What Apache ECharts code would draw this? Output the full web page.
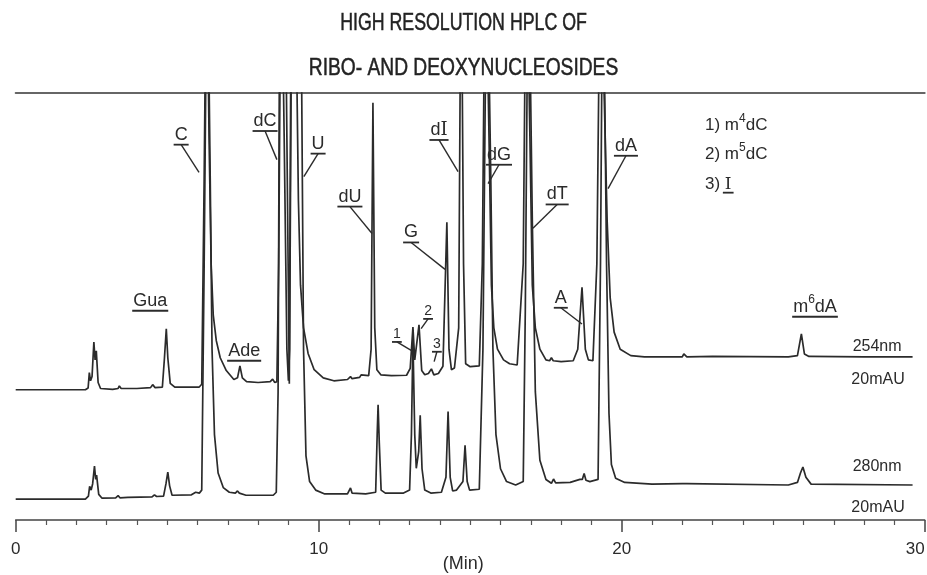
<!DOCTYPE html>
<html><head><meta charset="utf-8">
<script src="https://cdn.jsdelivr.net/npm/echarts@6/dist/echarts.min.js"></script>
<style>html,body{margin:0;padding:0;background:#fff}#c{width:927px;height:575px}</style>
</head><body><div id="c"></div>
<script>
// Retention time (min) vs detector response (relative units, 280 nm trace stacked below 254 nm trace)
const trace254 = [
  [0,30.5],[2.30,30.5],[2.39,30.9],[2.43,34.5],[2.47,32.6],[2.52,33.6],[2.58,41.7],[2.62,37.5],[2.66,39.6],[2.72,32.2],[2.80,30.8],
  [3.20,30.6],[3.38,30.8],[3.42,31.4],[3.48,30.8],[4.00,30.8],[4.45,31.0],[4.52,31.7],[4.60,31.0],[4.84,31.1],
  [4.91,38.0],[4.97,44.8],[5.02,38.0],[5.10,32.0],[5.25,31.1],[6.05,31.1],[6.14,31.8],
  [6.22,80],[6.30,140],[6.38,90],[6.45,60],[6.52,48],[6.62,42],[6.75,38],[6.95,35],[7.20,32.9],
  [7.32,33.3],[7.40,36.1],[7.48,33.3],[7.62,32.4],[8.00,32.2],[8.40,32.4],[8.48,33.0],[8.55,32.2],[8.62,32.4],
  [8.68,60],[8.76,140],[8.86,90],[8.95,40],[9.00,32.6],[9.04,40],[9.12,140],[9.25,120],[9.33,75],[9.40,55],[9.50,45],
  [9.65,39],[9.85,35.2],[10.15,33.3],[10.50,32.6],[10.95,32.9],[11.05,33.6],[11.10,33.1],[11.35,33.4],[11.40,34.0],[11.45,33.6],[11.65,33.8],
  [11.73,40],[11.79,97.7],[11.85,45],[11.92,35.2],[12.05,34.0],[12.40,33.8],[12.90,33.9],[13.02,35.5],
  [13.11,45.2],[13.17,37.5],[13.31,45.7],[13.40,35.0],[13.50,34.0],[13.62,34.3],[13.72,35.4],[13.80,34.0],[13.95,34.3],[14.10,36],
  [14.23,69.7],[14.30,40],[14.38,35.2],[14.48,35.6],[14.62,45],[14.70,140],[14.78,60],[14.85,36.6],[15.00,35.9],[15.30,36.1],
  [15.40,60],[15.50,140],[15.62,90],[15.70,55],[15.78,45],[15.90,40],[16.10,37.5],[16.30,36.6],[16.55,36.3],
  [16.75,60],[16.85,140],[16.97,90],[17.05,55],[17.15,45],[17.30,40],[17.50,37.5],[17.62,37.3],[17.68,38.0],[17.74,37.3],
  [18.00,37.1],[18.40,37.3],[18.55,40],[18.69,54.5],[18.80,40],[18.90,37.5],[19.05,37.3],
  [19.18,60],[19.30,140],[19.42,100],[19.52,70],[19.62,52],[19.75,44],[19.95,40],[20.30,38.5],[20.75,38.2],
  [22.00,38.2],[22.05,38.9],[22.15,38.2],[23.0,38.3],[25.5,38.2],[25.80,38.5],[25.93,43.6],[26.03,38.9],[26.18,38.3],[28.00,38.2],[29.6,38.2]
];
const trace280 = [
  [0,4.9],[2.30,4.9],[2.40,5.6],[2.44,7.9],[2.49,7.0],[2.54,8.5],[2.60,12.6],[2.64,9.5],[2.67,10.5],[2.74,6.0],[2.85,5.1],
  [3.30,5.2],[3.38,5.7],[3.44,5.2],[3.70,5.3],[4.50,5.4],[4.58,5.9],[4.65,5.5],[4.88,5.6],[4.96,8.5],[5.02,11.2],[5.08,8.0],[5.16,5.8],
  [5.80,5.9],[5.94,6.5],[6.00,6.8],[6.06,6.3],[6.14,7],[6.22,60],[6.32,140],[6.42,80],[6.48,40],[6.56,20],[6.68,11],[6.85,7.6],
  [7.05,6.5],[7.25,6.3],[7.32,6.8],[7.38,6.3],[7.60,5.8],[8.50,5.8],[8.60,6.5],
  [8.66,30],[8.72,140],[8.88,140],[9.03,31.9],[9.10,140],[9.40,140],[9.50,40],[9.58,15],[9.70,9],[9.90,7],[10.20,6.1],
  [10.95,6.1],[11.05,7.5],[11.10,6.3],[11.55,6.1],[11.88,6.5],[11.93,20],[11.96,27.0],[12.00,18],[12.06,7],[12.20,6.3],
  [12.80,6.3],[13.00,7.0],[13.06,20],[13.11,42.4],[13.17,20],[13.22,12.1],[13.30,16],[13.35,24.5],[13.41,12],[13.50,7],[13.70,6.3],
  [14.05,6.5],[14.20,10],[14.27,25.4],[14.34,10],[14.42,6.8],[14.55,7],[14.76,9],[14.83,17.5],[14.90,9],[14.98,7.0],[15.30,7.2],
  [15.42,40],[15.55,140],[15.68,80],[15.75,40],[15.85,20],[16.00,12],[16.20,9],[16.50,8.2],[16.75,9],
  [16.82,50],[16.92,140],[17.05,70],[17.15,30],[17.30,14],[17.50,9.5],[17.68,8.6],[17.75,9.6],[17.82,8.7],[18.30,8.8],
  [18.62,9.5],[18.70,9.5],[18.76,10.9],[18.82,9.3],[18.95,9.0],[19.22,9.5],
  [19.30,60],[19.38,140],[19.50,60],[19.58,25],[19.66,13],[19.80,9.8],[20.10,8.8],[21.0,8.4],[22.0,8.5],[22.05,8.9],[22.15,8.5],
  [25.50,8.2],[25.80,8.8],[25.90,11],[25.98,12.4],[26.08,10],[26.25,8.4],[29.6,8.2]
];
const xTicks = [0, 10, 20, 30];
const titleLines = ['HIGH RESOLUTION HPLC OF', 'RIBO- AND DEOXYNUCLEOSIDES'];
// Peak labels: text, underline position (time, level), leader end (time, level) or null
const peakNames  = ['Gua','Ade','C','dC','U','dU','dI','G','dG','dT','dA','A','m6dA','1','2','3'];
const labelAt    = [[4.44,49.0],[7.54,37.3],[5.46,87.9],[8.23,91.1],[9.98,85.8],[11.03,73.4],[13.97,89.0],[13.05,65.0],[15.95,83.2],[17.87,73.9],[20.14,85.3],[17.99,49.7],[26.38,47.6],[12.58,41.7],[13.61,47.1],[13.90,39.4]];
const leaderTo   = [null,null,[6.05,81.4],[8.62,84.4],[9.51,80.4],[11.76,67.1],[14.60,81.6],[14.17,58.7],[15.59,78.8],[17.07,68.3],[19.55,77.6],[18.69,45.9],null,[13.08,39.6],[13.38,44.8],[13.81,37.1]];
// Trace captions and key
const captions   = ['254nm','20mAU','280nm','20mAU'];
const captionAt  = [[28.43,40.6],[28.46,32.9],[28.43,12.6],[28.46,2.8]];
const keyLines   = ['1) m4dC','2) m5dC','3) I'];
const keyAt      = [[22.75,92.8],[22.75,86.0],[22.75,79.0]];

const SANS = '"Liberation Sans","DejaVu Sans",Arial,sans-serif';
const SERIF = '"DejaVu Serif","Liberation Serif",serif';
const INK = '#2b2b2b';
const ctx = document.createElement('canvas').getContext('2d');
function textWidth(parts) {
  let w = 0;
  parts.forEach(([s, f]) => { ctx.font = f; w += ctx.measureText(s).width; });
  return w;
}

// Turns a label like "m6dA" / "dI" into rich-text segments: digit after "m" is raised, "I" is a serif capital
function segments(name, fs) {
  const out = [];
  for (let k = 0; k < name.length; k++) {
    const ch = name[k];
    if (/\d/.test(ch) && name[k - 1] === 'm') out.push([ch, 'sup', Math.round(fs * 0.68), SANS]);
    else if (ch === 'I') out.push([ch, 'ser', fs, SERIF]);
    else out.push([ch, 'n', fs, SANS]);
  }
  const rich = {
    n: {fontFamily: SANS, fontSize: fs, fill: INK, verticalAlign: 'bottom', lineHeight: fs * 1.25},
    sup: {fontFamily: SANS, fontSize: Math.round(fs * 0.68), fill: INK, verticalAlign: 'top', lineHeight: fs * 1.25},
    ser: {fontFamily: SERIF, fontSize: fs, fill: INK, verticalAlign: 'bottom', lineHeight: fs * 1.25}
  };
  const text = out.map(s => '{' + s[1] + '|' + s[0] + '}').join('');
  const width = textWidth(out.map(s => [s[0], s[2] + 'px ' + s[3]]));
  return {text, rich, width};
}

const chart = echarts.init(document.getElementById('c'), null, {renderer: 'canvas'});

function labelItem(params, api) {
  const i = params.dataIndex;
  const name = peakNames[i];
  const p = api.coord(labelAt[i]);
  const fs = /^[123]$/.test(name) ? 14 : 18;
  const seg = segments(name, fs);
  const children = [{
    type: 'text', x: p[0], y: p[1] - 1,
    style: {text: seg.text, rich: seg.rich, fontFamily: SANS, fontSize: fs, fill: INK, align: 'center', verticalAlign: 'bottom'}
  }, {
    type: 'line', shape: {x1: p[0] - seg.width / 2 - 1, y1: p[1], x2: p[0] + seg.width / 2 + 1, y2: p[1]},
    style: {stroke: INK, lineWidth: 1.8}
  }];
  if (leaderTo[i]) {
    const q = api.coord(leaderTo[i]);
    children.push({type: 'line', shape: {x1: p[0], y1: p[1], x2: q[0], y2: q[1]}, style: {stroke: INK, lineWidth: 1.4}});
  }
  return {type: 'group', children};
}

function captionItem(params, api) {
  const i = params.dataIndex;
  const p = api.coord(captionAt[i]);
  return {type: 'text', x: p[0], y: p[1],
    style: {text: captions[i], fontFamily: SANS, fontSize: 16, fill: INK, align: 'center', verticalAlign: 'middle'}};
}

function keyItem(params, api) {
  const i = params.dataIndex;
  const p = api.coord(keyAt[i]);
  const seg = segments(keyLines[i], 17);
  const children = [{type: 'text', x: p[0], y: p[1] + 10,
    style: {text: seg.text, rich: seg.rich, fontFamily: SANS, fontSize: 17, fill: INK, align: 'left', verticalAlign: 'bottom'}}];
  if (keyLines[i].endsWith('I')) {
    const wI = textWidth([['I', '17px ' + SERIF]]);
    children.push({type: 'line', shape: {x1: p[0] + seg.width - wI - 2, y1: p[1] + 10, x2: p[0] + seg.width + 2, y2: p[1] + 10},
      style: {stroke: INK, lineWidth: 1.8}});
  }
  return {type: 'group', children};
}

// Condensed heading: regular sans squeezed horizontally, lightly stroked for weight
const titleGraphics = titleLines.map((t, i) => ({
  type: 'text', x: 463.5, y: i === 0 ? 23 : 68, scaleX: i === 0 ? 0.74 : 0.8,
  style: {text: t, fontFamily: SANS, fontSize: 24, fill: '#222', stroke: '#222', lineWidth: 0.5,
          align: 'center', verticalAlign: 'middle'}
}));

chart.setOption({
  animation: false,
  backgroundColor: '#ffffff',
  graphic: titleGraphics,
  grid: {left: 15.7, right: 2.3, top: 93, bottom: 55, outerBoundsMode: 'none', containLabel: false},
  xAxis: [{
    type: 'value', min: 0, max: 30, interval: 10, position: 'bottom',
    name: '(Min)', nameLocation: 'middle', nameGap: 35, nameMoveOverlap: false,
    nameTextStyle: {fontFamily: SANS, fontSize: 18, color: INK, verticalAlign: 'top', padding: [0, 14, 0, 0]},
    axisLine: {lineStyle: {color: '#444', width: 1.5}},
    axisTick: {length: 12, lineStyle: {color: '#444', width: 1.5}},
    minorTick: {show: true, splitNumber: 10, length: 5, lineStyle: {color: '#555', width: 1.2}},
    axisLabel: {fontFamily: SANS, fontSize: 17, color: INK, margin: 21, alignMaxLabel: 'right',
                formatter: v => xTicks.includes(v) ? String(v) : ''},
    splitLine: {show: false}
  }, {
    type: 'value', min: 0, max: 30, position: 'top',
    axisLine: {show: true, lineStyle: {color: '#666', width: 2}},
    axisTick: {show: false}, axisLabel: {show: false}, splitLine: {show: false}
  }],
  yAxis: {type: 'value', min: 0, max: 100, show: false},
  series: [
    {type: 'line', name: '254nm', data: trace254, symbol: 'none', clip: true,
     lineStyle: {color: INK, width: 1.7}},
    {type: 'line', name: '280nm', data: trace280, symbol: 'none', clip: true,
     lineStyle: {color: INK, width: 1.7}},
    {type: 'custom', name: 'labels', renderItem: labelItem, clip: false,
     data: labelAt.map((p, i) => [p[0], p[1], i]), encode: {x: 0, y: 1}, z: 5},
    {type: 'custom', name: 'captions', renderItem: captionItem, clip: false,
     data: captionAt.map((p, i) => [p[0], p[1], i]), encode: {x: 0, y: 1}, z: 5},
    {type: 'custom', name: 'key', renderItem: keyItem, clip: false,
     data: keyAt.map((p, i) => [p[0], p[1], i]), encode: {x: 0, y: 1}, z: 5}
  ]
});
</script></body></html>
